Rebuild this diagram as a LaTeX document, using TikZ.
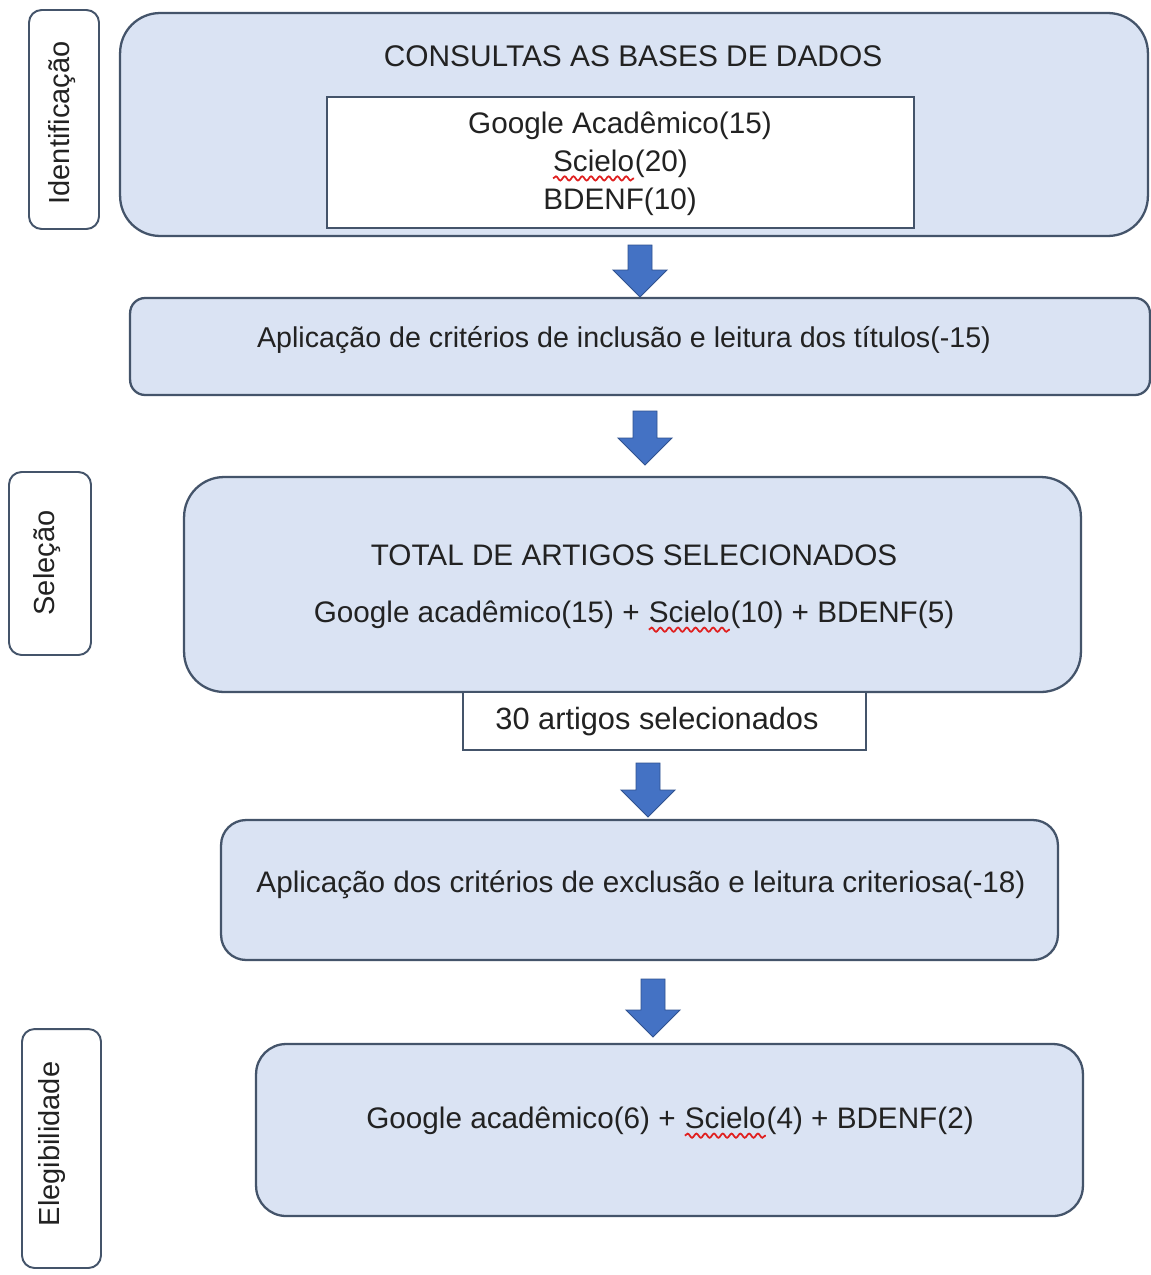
\documentclass[tikz,border=0pt]{standalone}
\usepackage{fontspec}
\setmainfont{Liberation Sans}
\usetikzlibrary{decorations.pathmorphing}
\definecolor{boxfill}{HTML}{DAE3F3}
\definecolor{boxline}{HTML}{44546A}
\definecolor{arrowfill}{HTML}{4472C4}
\definecolor{arrowline}{HTML}{2F528F}
\definecolor{txt}{HTML}{222222}
\definecolor{spell}{HTML}{E02020}
\newcommand{\wavyword}[1]{\tikz[baseline=(ww.base),x=1cm,y=1cm]{\node[inner sep=0pt,outer sep=0pt,draw=none,fill=none,minimum width=0pt,minimum height=0pt] (ww) {#1};\draw[spell,line width=1pt,decorate,decoration={snake,amplitude=1.2pt,segment length=5pt}] ([yshift=-3.8pt]ww.base west) -- ([yshift=-3.8pt]ww.base east);}}
\newcommand{\blockarrow}[3]{%
  \draw[arrowstyle] ({#1-12},{#2}) -- ({#1+12},{#2}) -- ({#1+12},{#3-27}) -- ({#1+27},{#3-27}) -- ({#1},{#3}) -- ({#1-27},{#3-27}) -- ({#1-12},{#3-27}) -- cycle;}
\tikzset{
  bigbox/.style={draw=boxline,fill=boxfill,line width=1.3pt,inner sep=0pt},
  whitebox/.style={draw=boxline,fill=white,line width=1.3pt,inner sep=0pt},
  labelbox/.style={draw=boxline,fill=white,line width=1.1pt,rounded corners=0.25cm,inner sep=0pt},
  maintext/.style={text=txt,font=\fontsize{16.9pt}{20.5pt}\selectfont,inner sep=0pt,align=center},
  labeltext/.style={text=txt,font=\fontsize{16.5pt}{20pt}\selectfont,inner sep=0pt,rotate=90},
  arrowstyle/.style={fill=arrowfill,draw=arrowline,line width=0.5pt,line join=miter}
}
\begin{document}
\begin{tikzpicture}[x=0.02cm,y=-0.02cm]
\fill[white] (0,0) rectangle (1151,1275);
\useasboundingbox (0,0) rectangle (1151,1275);

% stage labels
\node[labelbox,minimum width=1.4cm,minimum height=4.38cm] (lid) at (64,119.5) {};
\node[labeltext] (lidt) at (62,123) {Identificação};
\node[labelbox,minimum width=1.64cm,minimum height=3.66cm] (lsel) at (50,563.5) {};
\node[labeltext] (lselt) at (47,563) {Seleção};
\node[labelbox,minimum width=1.58cm,minimum height=4.78cm] (lel) at (61.5,1148.5) {};
\node[labeltext] (lelt) at (52,1144) {Elegibilidade};

% box 1
\node[bigbox,rounded corners=0.8cm,minimum width=20.56cm,minimum height=4.46cm] (b1) at (634,124.5) {};
\node[maintext,font=\fontsize{17pt}{20.5pt}\selectfont] (b1t) at (633,56) {CONSULTAS AS BASES DE DADOS};
\node[whitebox,minimum width=11.74cm,minimum height=2.62cm] (b1in) at (620.5,162.5) {};
\node[maintext,font=\fontsize{16.9pt}{20.3pt}\selectfont] (b1int) at (620,164) {Google Acadêmico(15)\\[1.2pt]\wavyword{Scielo}(20)\\[1.2pt]BDENF(10)};

% box 2
\node[bigbox,rounded corners=0.3cm,minimum width=20.4cm,minimum height=1.94cm] (b2) at (640,346.5) {};
\node[maintext,font=\fontsize{16.3pt}{20pt}\selectfont] (b2t) at (624,340) {Aplicação de critérios de inclusão e leitura dos títulos(-15)};

% box 3
\node[bigbox,rounded corners=0.8cm,minimum width=17.94cm,minimum height=4.3cm] (b3) at (632.5,584.5) {};
\node[maintext] (b3t1) at (634,555) {TOTAL DE ARTIGOS SELECIONADOS};
\node[maintext] (b3t2) at (634,617) {Google acadêmico(15) + \wavyword{Scielo}(10) + BDENF(5)};

% box 30
\node[whitebox,minimum width=8.06cm,minimum height=1.16cm] (b30) at (664.5,721) {};
\node[maintext,font=\fontsize{17.5pt}{20.5pt}\selectfont] (b30t) at (657,722) {30 artigos selecionados};

% box 4
\node[bigbox,rounded corners=0.5cm,minimum width=16.74cm,minimum height=2.8cm] (b4) at (639.5,890) {};
\node[maintext] (b4t) at (641,885) {Aplicação dos critérios de exclusão e leitura criteriosa(-18)};

% box 5
\node[bigbox,rounded corners=0.6cm,minimum width=16.54cm,minimum height=3.44cm] (b5) at (669.5,1130) {};
\node[maintext] (b5t) at (670,1123) {Google acadêmico(6) + \wavyword{Scielo}(4) + BDENF(2)};

% block arrows
\blockarrow{640}{245}{297}
\blockarrow{645}{411}{465}
\blockarrow{648}{763}{817}
\blockarrow{653}{979}{1037}
\end{tikzpicture}
\end{document}
